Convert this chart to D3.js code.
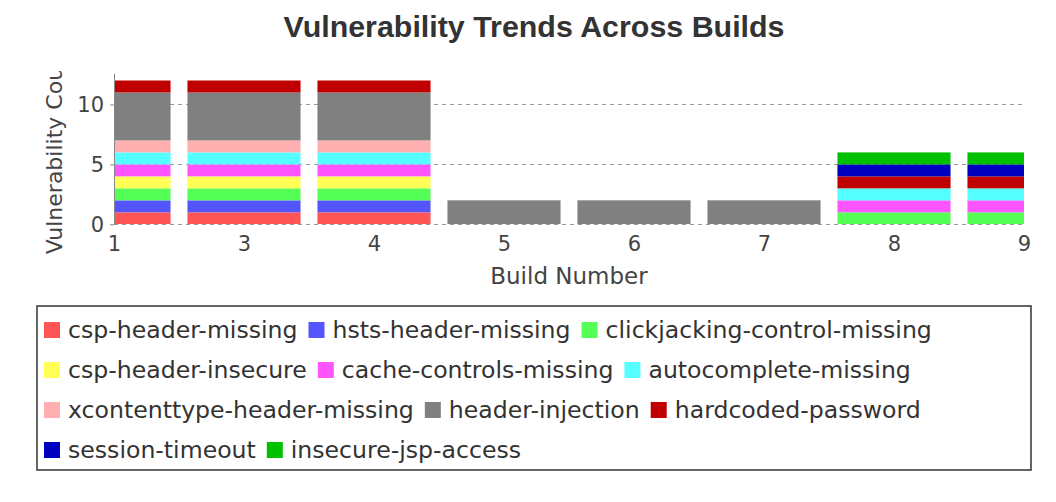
<!DOCTYPE html>
<html>
<head>
<meta charset="utf-8">
<script src="https://cdn.jsdelivr.net/npm/d3@7"></script>
<style>
  html, body { margin: 0; padding: 0; background: #fff; }
  svg { display: block; }
</style>
</head>
<body>
<svg id="chart" width="1056" height="502"></svg>
<script>
const builds = ["1", "3", "4", "5", "6", "7", "8", "9"];
const seriesNames = [
  "csp-header-missing", "hsts-header-missing", "clickjacking-control-missing",
  "csp-header-insecure", "cache-controls-missing", "autocomplete-missing",
  "xcontenttype-header-missing", "header-injection", "hardcoded-password",
  "session-timeout", "insecure-jsp-access"
];
const cspHeaderMissing        = [1, 1, 1, 0, 0, 0, 0, 0];
const hstsHeaderMissing       = [1, 1, 1, 0, 0, 0, 0, 0];
const clickjackingMissing     = [1, 1, 1, 0, 0, 0, 1, 1];
const cspHeaderInsecure       = [1, 1, 1, 0, 0, 0, 0, 0];
const cacheControlsMissing    = [1, 1, 1, 0, 0, 0, 1, 1];
const autocompleteMissing     = [1, 1, 1, 0, 0, 0, 1, 1];
const xcontenttypeMissing     = [1, 1, 1, 0, 0, 0, 0, 0];
const headerInjection         = [4, 4, 4, 2, 2, 2, 0, 0];
const hardcodedPassword       = [1, 1, 1, 0, 0, 0, 1, 1];
const sessionTimeout          = [0, 0, 0, 0, 0, 0, 1, 1];
const insecureJspAccess       = [0, 0, 0, 0, 0, 0, 1, 1];
const seriesColors = [
  "#FF5555", "#5555FF", "#55FF55", "#FFFF55", "#FF55FF", "#55FFFF",
  "#FFAFAF", "#808080", "#C00000", "#0000C0", "#00C000"
];
const yTicks = [0, 5, 10];
const title = "Vulnerability Trends Across Builds";
const xLabel = "Build Number";
const yLabel = "Vulnerability Count";

const seriesValues = [
  cspHeaderMissing, hstsHeaderMissing, clickjackingMissing, cspHeaderInsecure,
  cacheControlsMissing, autocompleteMissing, xcontenttypeMissing, headerInjection,
  hardcodedPassword, sessionTimeout, insecureJspAccess
];

// table for stacking
const table = builds.map((b, i) => {
  const row = { build: b };
  seriesNames.forEach((s, k) => row[s] = seriesValues[k][i]);
  return row;
});

const svg = d3.select("#chart");
const plot = { left: 114, right: 1024, top: 73.3, bottom: 224.3 };

const x = d3.scalePoint().domain(builds).range([plot.left, plot.right]);
const y = d3.scaleLinear().domain([0, 12.6]).range([plot.bottom, plot.top]);
const barW = x.step() * 0.87;

const color = d3.scaleOrdinal().domain(seriesNames).range(seriesColors);
const stacked = d3.stack().keys(seriesNames)(table);

// title
svg.append("text")
  .attr("x", 534).attr("y", 37)
  .attr("text-anchor", "middle")
  .style("font-family", "'Liberation Sans', Arial, sans-serif")
  .style("font-weight", "bold")
  .style("font-size", "30.4px")
  .style("fill", "#333")
  .text(title);

// clips
const defs = svg.append("defs");
defs.append("clipPath").attr("id", "plotclip")
  .append("rect")
  .attr("x", plot.left).attr("y", plot.top)
  .attr("width", plot.right - plot.left).attr("height", plot.bottom - plot.top);
defs.append("clipPath").attr("id", "ylabclip")
  .append("rect").attr("x", 0).attr("y", 71).attr("width", 110).attr("height", 300);

// gridlines
svg.append("g").selectAll("line").data(yTicks).join("line")
  .attr("x1", plot.left).attr("x2", plot.right)
  .attr("y1", d => Math.round(y(d)) + 0.5).attr("y2", d => Math.round(y(d)) + 0.5)
  .attr("stroke", "#999").attr("stroke-width", 1)
  .attr("stroke-dasharray", "4,4");

// bars
const barsG = svg.append("g").attr("clip-path", "url(#plotclip)");
barsG.selectAll("g").data(stacked).join("g")
  .attr("fill", d => color(d.key))
  .selectAll("rect")
  .data(d => d.filter(p => p[1] - p[0] > 0))
  .join("rect")
  .attr("x", p => x(p.data.build) - barW / 2)
  .attr("width", barW)
  .attr("y", p => y(p[1]))
  .attr("height", p => y(p[0]) - y(p[1]));

// y axis
const yAxis = svg.append("g")
  .attr("transform", `translate(${plot.left},0)`)
  .call(d3.axisLeft(y).tickValues(yTicks).tickSize(4).tickPadding(6).tickSizeOuter(0));
yAxis.select(".domain").attr("stroke", "#888");
yAxis.selectAll(".tick line").attr("stroke", "#888");
yAxis.selectAll(".tick text")
  .style("font-family", "'DejaVu Sans', sans-serif")
  .style("font-size", "21px").style("fill", "#444");

// x axis
const xAxis = svg.append("g")
  .attr("transform", `translate(0,${plot.bottom})`)
  .call(d3.axisBottom(x).tickSize(0).tickPadding(12));
xAxis.select(".domain").remove();
xAxis.selectAll(".tick text")
  .style("font-family", "'DejaVu Sans', sans-serif")
  .style("font-size", "21px").style("fill", "#444");

// axis labels
svg.append("text")
  .attr("x", 569).attr("y", 284)
  .attr("text-anchor", "middle")
  .style("font-family", "'DejaVu Sans', sans-serif")
  .style("font-size", "23px").style("fill", "#444")
  .text(xLabel);

svg.append("g").attr("clip-path", "url(#ylabclip)")
  .append("text")
  .attr("transform", `translate(62,${(plot.top + plot.bottom) / 2 + 0.5}) rotate(-90)`)
  .attr("text-anchor", "middle")
  .style("font-family", "'DejaVu Sans', sans-serif")
  .style("font-size", "22px").style("fill", "#444")
  .text(yLabel);

// legend
const legBox = { x: 37, y: 306, w: 994, h: 164 };
svg.append("rect")
  .attr("x", legBox.x).attr("y", legBox.y)
  .attr("width", legBox.w).attr("height", legBox.h)
  .attr("fill", "none").attr("stroke", "#333").attr("stroke-width", 1.5);

const legG = svg.append("g");
const sw = 16, swGap = 8, itemGap = 11, rowH = 40;
let cx = legBox.x + 7, row = 0;
seriesNames.forEach((name, i) => {
  const t = legG.append("text")
    .style("font-family", "'DejaVu Sans', sans-serif")
    .style("font-size", "23.6px").style("fill", "#333")
    .text(name);
  const tw = t.node().getComputedTextLength();
  const itemW = sw + swGap + tw;
  if (cx + itemW > legBox.x + legBox.w - 8) { row++; cx = legBox.x + 7; }
  const cy = 330 + row * rowH;
  legG.append("rect")
    .attr("x", cx).attr("y", cy - sw / 2)
    .attr("width", sw).attr("height", sw)
    .attr("fill", seriesColors[i]);
  t.attr("x", cx + sw + swGap).attr("y", cy + 8);
  cx += itemW + itemGap;
});
</script>
</body>
</html>
